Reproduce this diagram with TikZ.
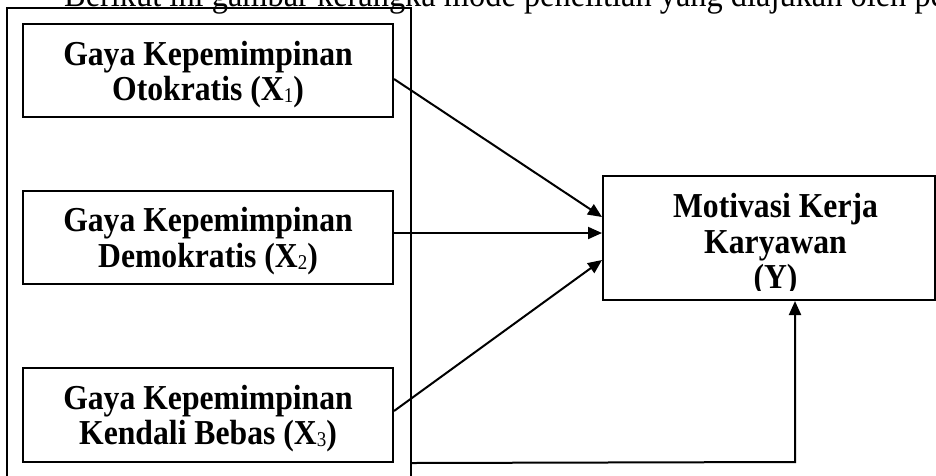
\documentclass[tikz,border=0pt]{standalone}
\usepackage{fontspec}
\setmainfont{Liberation Serif}[FakeStretch=0.905]
\usetikzlibrary{arrows.meta}
\newcommand{\subidx}[1]{\raisebox{-2pt}{\fontsize{21}{21}\selectfont\mdseries #1}}
\begin{document}
\begin{tikzpicture}[x=1pt,y=-1pt,
  box/.style={draw, line width=2pt, rectangle, inner sep=0pt},
  lbl/.style={font=\fontsize{35}{35.5}\selectfont\bfseries, align=center, inner sep=0pt},
  arr/.style={line width=2pt, -{Triangle[length=14pt,width=12pt]}}]
\useasboundingbox (0,0) rectangle (936,475);
\node[anchor=base west, font=\fontsize{35.8}{36}\selectfont, inner sep=0pt] (top) at (64,6) {Berikut ini gambar kerangka mode penelitian yang diajukan oleh pe};
\node[box, line width=1.7pt, minimum width=404pt, minimum height=482pt] (outer) at (209,249) {};
\node[box, minimum width=370pt, minimum height=93pt] (x1) at (208,70.5) {};
\node[box, minimum width=370pt, minimum height=93pt] (x2) at (208,237.5) {};
\node[box, minimum width=370pt, minimum height=94pt] (x3) at (208,415) {};
\node[box, minimum width=332pt, minimum height=124pt] (y) at (769,238) {};
\node[lbl] (t1) at (208,74.4) {Gaya Kepemimpinan\\Otokratis (X\subidx{1})};
\node[lbl] (t2) at (208,241.3) {Gaya Kepemimpinan\\Demokratis (X\subidx{2})};
\node[lbl] (t3) at (208,418.4) {Gaya Kepemimpinan\\Kendali Bebas (X\subidx{3})};
\begin{scope}
\clip (603,176) rectangle (935,290);
\node[lbl] (ty) at (775.5,245) {Motivasi Kerja\\Karyawan\\(Y)};
\end{scope}
\draw[arr] ([yshift=-8.5pt]x1.east) -- ([yshift=21pt]y.west);
\draw[arr] ([yshift=4.5pt]x2.east) -- ([yshift=5pt]y.west);
\draw[arr] ([yshift=4pt]x3.east) -- ([yshift=-22pt]y.west);
\coordinate (bend) at (795,462);
\draw[arr] (x3.south -| outer.east) -- (bend) -- (y.south -| bend);
\end{tikzpicture}
\end{document}
